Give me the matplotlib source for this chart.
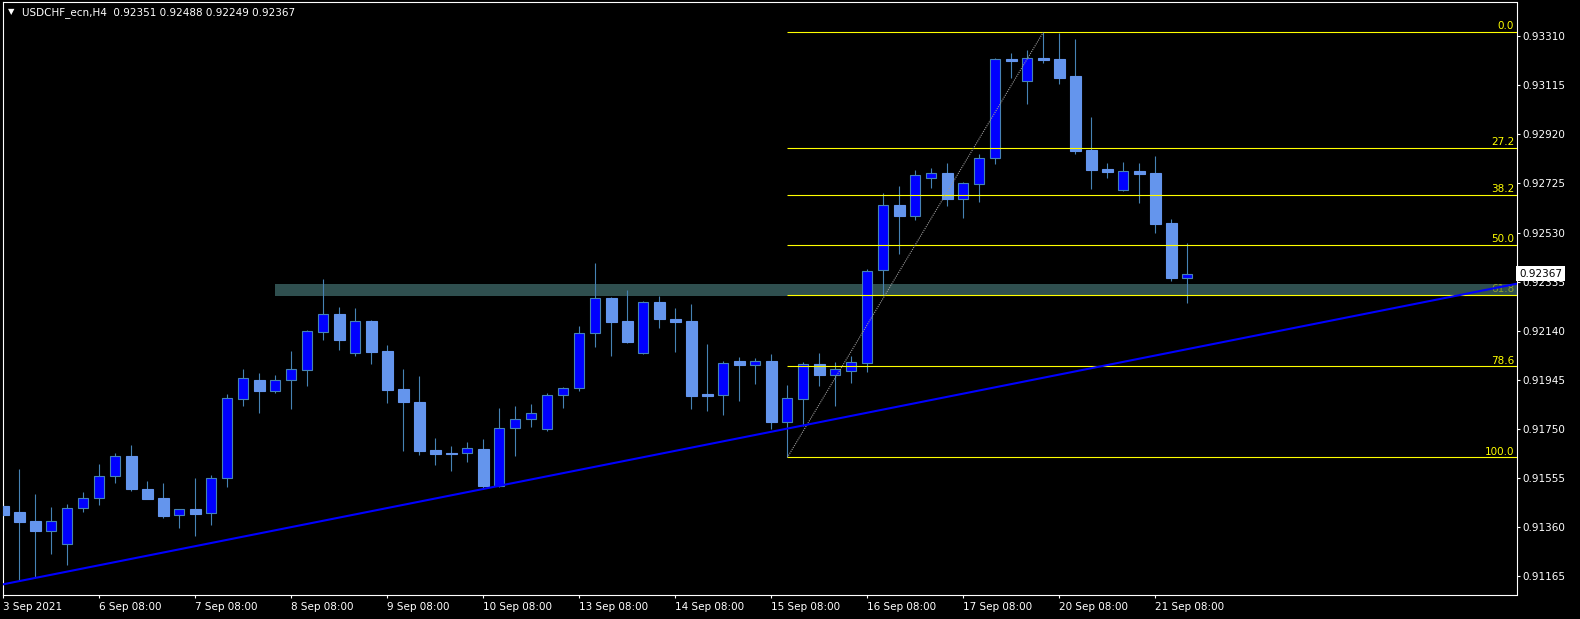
import matplotlib
matplotlib.use("Agg")
import matplotlib.pyplot as plt
import matplotlib.transforms as mtransforms
from matplotlib.patches import Rectangle
import numpy as np

#### datos H4 USDCHF
opens = [0.91444, 0.91419, 0.91384, 0.91346, 0.91292, 0.91435, 0.91475, 0.91562, 0.91643, 0.91512,
         0.91476, 0.91407, 0.91432, 0.91415, 0.91554, 0.91868, 0.91943, 0.91900, 0.91943, 0.91983,
         0.92134, 0.92205, 0.92051, 0.92179, 0.92060, 0.91908, 0.91857, 0.91667, 0.91655, 0.91654,
         0.91671, 0.91525, 0.91753, 0.91789, 0.91749, 0.91884, 0.91912, 0.92130, 0.92269, 0.92179,
         0.92051, 0.92254, 0.92187, 0.92179, 0.91889, 0.91886, 0.92020, 0.92005, 0.92020, 0.91779,
         0.91870, 0.92007, 0.91966, 0.91982, 0.92013, 0.92380, 0.92638, 0.92597, 0.92748, 0.92765,
         0.92664, 0.92724, 0.92825, 0.93219, 0.93133, 0.93223, 0.93219, 0.93152, 0.92858, 0.92782,
         0.92700, 0.92774, 0.92766, 0.92568, 0.92351]
highs = [0.91455, 0.91591, 0.91492, 0.91440, 0.91452, 0.91499, 0.91611, 0.91654, 0.91687, 0.91544,
         0.91536, 0.91434, 0.91554, 0.91567, 0.91888, 0.91988, 0.91972, 0.91964, 0.92060, 0.92143,
         0.92346, 0.92234, 0.92229, 0.92183, 0.92084, 0.91988, 0.91960, 0.91714, 0.91683, 0.91698,
         0.91710, 0.91833, 0.91841, 0.91849, 0.91892, 0.91918, 0.92159, 0.92408, 0.92275, 0.92302,
         0.92258, 0.92278, 0.92229, 0.92246, 0.92088, 0.92019, 0.92036, 0.92032, 0.92048, 0.91925,
         0.92016, 0.92052, 0.92016, 0.92039, 0.92385, 0.92687, 0.92716, 0.92778, 0.92786, 0.92806,
         0.92729, 0.92842, 0.93223, 0.93243, 0.93255, 0.93325, 0.93322, 0.93298, 0.92989, 0.92805,
         0.92810, 0.92805, 0.92834, 0.92584, 0.92488]
lows = [0.91346, 0.91147, 0.91164, 0.91255, 0.91211, 0.91419, 0.91450, 0.91537, 0.91505, 0.91473,
        0.91398, 0.91358, 0.91326, 0.91369, 0.91521, 0.91843, 0.91815, 0.91894, 0.91831, 0.91922,
        0.92105, 0.92065, 0.92041, 0.92009, 0.91855, 0.91664, 0.91648, 0.91608, 0.91585, 0.91620,
        0.91511, 0.91521, 0.91644, 0.91759, 0.91743, 0.91835, 0.91902, 0.92077, 0.92041, 0.92093,
        0.92048, 0.92152, 0.92057, 0.91829, 0.91822, 0.91807, 0.91861, 0.91929, 0.91750, 0.91637,
        0.91763, 0.91922, 0.91843, 0.91934, 0.91978, 0.92282, 0.92446, 0.92580, 0.92708, 0.92637,
        0.92589, 0.92651, 0.92802, 0.93145, 0.93042, 0.93204, 0.93121, 0.92843, 0.92703, 0.92748,
        0.92696, 0.92648, 0.92529, 0.92339, 0.92249]
closes = [0.91410, 0.91382, 0.91346, 0.91384, 0.91435, 0.91475, 0.91562, 0.91642, 0.91513, 0.91473,
          0.91406, 0.91431, 0.91414, 0.91554, 0.91872, 0.91951, 0.91902, 0.91943, 0.91987, 0.92138,
          0.92205, 0.92105, 0.92178, 0.92057, 0.91906, 0.91858, 0.91664, 0.91652, 0.91652, 0.91673,
          0.91525, 0.91753, 0.91789, 0.91812, 0.91884, 0.91912, 0.92130, 0.92269, 0.92176, 0.92097,
          0.92253, 0.92187, 0.92176, 0.91882, 0.91882, 0.92011, 0.92005, 0.92019, 0.91778, 0.91872,
          0.92007, 0.91964, 0.91987, 0.92016, 0.92376, 0.92638, 0.92597, 0.92757, 0.92765, 0.92663,
          0.92725, 0.92825, 0.93218, 0.93212, 0.93222, 0.93216, 0.93145, 0.92855, 0.92778, 0.92772,
          0.92773, 0.92764, 0.92565, 0.92351, 0.92367]

xtick_pos = [0, 6, 12, 18, 24, 30, 36, 42, 48, 54, 60, 66, 72]
xtick_labels = ["3 Sep 2021", "6 Sep 08:00", "7 Sep 08:00", "8 Sep 08:00", "9 Sep 08:00",
                "10 Sep 08:00", "13 Sep 08:00", "14 Sep 08:00", "15 Sep 08:00", "16 Sep 08:00",
                "17 Sep 08:00", "20 Sep 08:00", "21 Sep 08:00"]
yticks = [0.93310, 0.93115, 0.92920, 0.92725, 0.92530, 0.92335,
          0.92140, 0.91945, 0.91750, 0.91555, 0.91360, 0.91165]

#### objetos del grafico
fib_levels = [0.0, 27.2, 38.2, 50.0, 61.8, 78.6, 100.0]
fib_low_bar, fib_high_bar = 49, 65
trend_bars = [2, 74]
trend_prices = [0.91159, 0.92067]
zone_start = 17
zone_top, zone_bottom = 0.92326, 0.92280

o = np.array(opens); h = np.array(highs); l = np.array(lows); c = np.array(closes)
x = np.arange(len(o))
up = c > o

W, H = 1580, 619
fig = plt.figure(figsize=(W/100, H/100), dpi=100, facecolor="black")
ax = fig.add_axes([2.7/W, (H-595.3)/H, 1513.8/W, 593.8/H])
ax.set_facecolor("black")
for s in ax.spines.values():
    s.set_color("white")
    s.set_linewidth(0.8)

xmin, xmax = -0.04, 94.58
ax.set_xlim(xmin, xmax)
ax.set_ylim(0.91090, 0.93447)

# zona (fondo)
ax.add_patch(Rectangle((zone_start, zone_bottom), 200, zone_top-zone_bottom,
                       facecolor="#2F4F4F", edgecolor="none", zorder=1))

# velas
ax.vlines(x, l, h, color="#4682B4", lw=0.8, zorder=2)
ax.bar(x[up], (c-o)[up], bottom=o[up], width=0.64, color="#0000FF",
       edgecolor="#4682B4", linewidth=0.8, zorder=3)
ax.bar(x[~up], (o-c)[~up], bottom=c[~up], width=0.66, color="#6495ED",
       edgecolor="#6495ED", linewidth=0.8, zorder=3)

# fibonacci
hi = highs[fib_high_bar]
lo = lows[fib_low_bar]
trans = mtransforms.blended_transform_factory(ax.transAxes, ax.transData)
for lv in fib_levels:
    p = hi - lv/100.0*(hi-lo)
    ax.hlines(p, fib_low_bar, xmax+1, color="#FFFF00", lw=0.8, zorder=4)
    ax.text(0.9985, p + 0.00003, f"{lv:.1f}", transform=trans, ha="right", va="bottom",
            color="#FFFF00", fontsize=7.5, zorder=4, alpha=0.45 if lv == 61.8 else 1.0)
ax.plot([fib_low_bar, fib_high_bar], [lo, hi], color="#9a9a9a", ls=(0, (1, 1)),
        lw=0.8, zorder=4)

# linea de tendencia (rayo)
slope = (trend_prices[1]-trend_prices[0])/(trend_bars[1]-trend_bars[0])
tx = np.array([xmin-1, xmax+1])
ty = trend_prices[0] + slope*(tx-trend_bars[0])
ax.plot(tx, ty, color="#0000FF", lw=1.5, zorder=5)

# ejes
ax.yaxis.tick_right()
ax.set_yticks(yticks)
ax.set_yticklabels([f"{v:.5f}" for v in yticks])
ax.set_xticks(xtick_pos)
ax.set_xticklabels(xtick_labels)
for lbl in ax.get_xticklabels():
    lbl.set_ha("left")
ax.tick_params(axis="y", colors="white", length=2.5, width=0.8, pad=1.5, labelsize=7.5)
ax.tick_params(axis="x", colors="white", length=2.5, width=0.8, pad=2, labelsize=7.5)

# precio actual
ax.text(1.0 + 2.5/1513.8, closes[-1], f"{closes[-1]:.5f}", transform=trans,
        ha="left", va="center", color="black", fontsize=7.5, zorder=10, clip_on=False,
        bbox=dict(boxstyle="square,pad=0.25", fc="white", ec="none"))

# titulo
fig.text(11/W, 1-12/H, "\u25bc", ha="center", va="center", fontsize=6, color="white")
fig.text(21.7/W, 1-12.3/H,
         f"USDCHF_ecn,H4  {opens[-1]:.5f} {highs[-1]:.5f} {lows[-1]:.5f} {closes[-1]:.5f}",
         color="white", fontsize=7.5, va="center", ha="left")

fig.savefig("out.png", dpi=100, facecolor="black")
